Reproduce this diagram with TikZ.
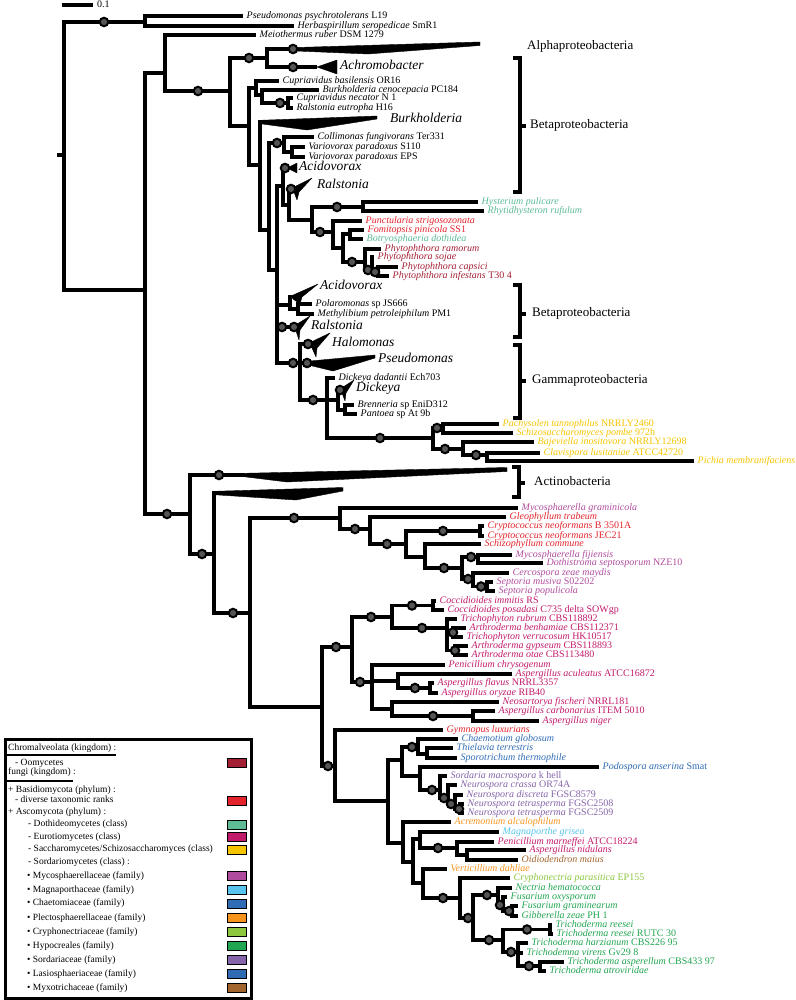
\documentclass[tikz,border=0pt]{standalone}
\usepackage{fontspec}
\setmainfont{Liberation Serif}
\definecolor{oomy}{HTML}{A31F34}
\definecolor{basid}{HTML}{E3232C}
\definecolor{dothi}{HTML}{5DBB96}
\definecolor{euro}{HTML}{C21A6B}
\definecolor{sacch}{HTML}{F5C400}
\definecolor{mycos}{HTML}{B04C9E}
\definecolor{magna}{HTML}{58C4EE}
\definecolor{chaet}{HTML}{2F6CB5}
\definecolor{plect}{HTML}{F7941E}
\definecolor{cryph}{HTML}{8DC63F}
\definecolor{hypoc}{HTML}{20A550}
\definecolor{sorda}{HTML}{8564AA}
\definecolor{lasio}{HTML}{2E6BB3}
\definecolor{myxo}{HTML}{A2652E}
\definecolor{dotgray}{HTML}{555555}
\newcommand\tbr[2]{\draw[br] (#1) |- (#2);}
\newcommand\thz[2]{\draw[br] (#1) -- (#2);}
\newcommand\tdot[2]{\node[dotn] (#1) at (#2) {};}
\newcommand\tlab[3]{\node[lab,text=#2] (#1l) at ([xshift=3.5pt]#1) {#3};}
\newcommand\tcoord[2]{\coordinate (#1) at (#2);}
\begin{document}
\begin{tikzpicture}[x=1pt,y=-1pt,
  br/.style={line width=3.4pt, line cap=butt, line join=miter},
  dotn/.style={circle, fill=dotgray, draw=black, line width=2pt, minimum size=8.5pt, inner sep=0pt},
  lab/.style={anchor=mid west, inner sep=0pt, font=\fontsize{10}{11}\selectfont},
  big/.style={anchor=mid west, inner sep=0pt, font=\fontsize{13.5}{14}\selectfont\itshape},
  grp/.style={anchor=mid west, inner sep=0pt, font=\fontsize{13}{14}\selectfont},
  wedge/.style={fill=black, draw=black, line width=0.4pt, line join=round},
  brk/.style={line width=3.2pt, line cap=butt, line join=miter},
  leg/.style={anchor=mid west, inner sep=0pt, font=\fontsize{9.5}{10}\selectfont},
  sw/.style={draw=black, line width=0.7pt, minimum width=19pt, minimum height=9pt, inner sep=0pt}]
\useasboundingbox (0,0) rectangle (795,1000);

% scale bar
\coordinate (sb0) at (62,5); \coordinate (sb1) at (93,5);
\draw[br] (sb0) -- (sb1);
\node[lab] (sbl) at (97,5) {0.1};

% ---------- coordinates: bacteria part
\tcoord{r0}{57,155}
\tcoord{r}{64,155}
\tcoord{t1}{145,22}
\tcoord{pp}{243,16}
\tcoord{hs}{294,26}
\tcoord{m1}{145,290}
\tcoord{a1}{165,73}
\tcoord{mr}{256,35}
\tcoord{b1}{230,91}
\tcoord{c1}{267,58}
\tcoord{alpha}{296,49}
\tcoord{achro}{317,67}
\tcoord{c2}{249,126}
\tcoord{cup}{256,88}
\tcoord{cb}{279,81}
\tcoord{cu2}{262,95}
\tcoord{bc}{319,90}
\tcoord{cu3}{288,103}
\tcoord{cn}{293,98}
\tcoord{reu}{293,108}
\tcoord{d1}{260,165}
\tcoord{burk}{262,122}
\tcoord{d2}{269,230}
\tcoord{col}{284,143}
\tcoord{cf}{314,137}
\tcoord{col2}{292,152}
\tcoord{vs}{305,147}
\tcoord{ve}{305,157}
\tcoord{e1}{277,270}
\tcoord{up}{283,186}
\tcoord{acid1}{288,168}
\tcoord{up2}{289,205}
\tcoord{ral1}{293,189}
\tcoord{fung}{312,220}
\tcoord{hy}{363,207}
\tcoord{hp}{478,202}
\tcoord{rr}{484,211}
\tcoord{pu}{333,232}
\tcoord{punc}{362,221}
\tcoord{pu2}{343,248}
\tcoord{fo}{350,234}
\tcoord{fp}{364,230}
\tcoord{bd}{363,239}
\tcoord{ph}{365,262}
\tcoord{pram}{381,249}
\tcoord{ph2}{372,270}
\tcoord{psj}{374,257}
\tcoord{ph3}{378,272}
\tcoord{pcap}{398,267}
\tcoord{pinf}{389,276}
\tcoord{ac2}{290,305}
\tcoord{acid2}{292,297}
\tcoord{po}{298,309}
\tcoord{pol}{312,304}
\tcoord{met}{314,314}
\tcoord{ral2}{294,327}
\tcoord{vt}{300,363}
\tcoord{halo}{310,344}
\tcoord{pseu}{308,363}
\tcoord{dk}{327,400}
\tcoord{dd}{335,378}
\tcoord{dk2}{338,400}
\tcoord{dick}{341,390}
\tcoord{brn0}{345,410}
\tcoord{brn}{354,405}
\tcoord{pan}{357,414}
\tcoord{ye}{433,438}
\tcoord{ye1}{443,428}
\tcoord{ptan}{499,424}
\tcoord{spom}{513,433}
\tcoord{ye2}{463,449}
\tcoord{bino}{534,442}
\tcoord{ye3}{487,455}
\tcoord{clus}{540,453}
\tcoord{pmem}{694,461}
% ---------- coordinates: lower part
\tcoord{f1}{190,514}
\tcoord{act1}{245,475}
\tcoord{f2}{214,554}
\tcoord{act2}{216,493}
\tcoord{f3}{250,613}
\tcoord{g1}{340,518}
\tcoord{mg}{518,508}
\tcoord{g2}{370,529}
\tcoord{gt}{506,517}
\tcoord{g3}{406,544}
\tcoord{g4}{480,531}
\tcoord{cr1}{484,526}
\tcoord{cr2}{484,536}
\tcoord{g5}{425,557}
\tcoord{sc}{481,544}
\tcoord{g6}{462,568}
\tcoord{g7}{478,557}
\tcoord{mf}{512,555}
\tcoord{dsn}{543,563}
\tcoord{g8}{473,579}
\tcoord{cz}{509,573}
\tcoord{g9}{487,586.5}
\tcoord{sm}{493,582}
\tcoord{spo}{495,591}
\tcoord{h1}{322,707}
\tcoord{h2}{352,647}
\tcoord{h3}{392,617}
\tcoord{h4}{433,605.5}
\tcoord{ci}{436,601}
\tcoord{cpo}{444,610}
\tcoord{h5}{447,628}
\tcoord{trr}{457,619}
\tcoord{h6}{453,632.5}
\tcoord{abe}{466,628}
\tcoord{tve}{463,637}
\tcoord{h7}{455,650.5}
\tcoord{agy}{468,646}
\tcoord{aot}{468,655}
\tcoord{h8}{372,682}
\tcoord{pch}{445,665}
\tcoord{h9}{398,681}
\tcoord{aac}{512,674}
\tcoord{h10}{430,688}
\tcoord{afl}{434,683}
\tcoord{aor}{438,693}
\tcoord{h11}{392,709}
\tcoord{nfi}{499,702}
\tcoord{h12}{473,716}
\tcoord{aca}{495,711}
\tcoord{ani}{539,721}
\tcoord{k1}{335,766}
\tcoord{gyl}{443,730}
\tcoord{k2}{388,801}
\tcoord{k3}{402,760}
\tcoord{k4}{418,747}
\tcoord{cgl}{458,739}
\tcoord{k5}{427,754}
\tcoord{tte}{453,748}
\tcoord{sth}{457,758}
\tcoord{k6}{420,776}
\tcoord{pans}{599,767}
\tcoord{k7}{440,790}
\tcoord{sma}{447,776}
\tcoord{k8}{448,798}
\tcoord{ncr}{457,785}
\tcoord{k9}{455,804}
\tcoord{ndi}{463,795}
\tcoord{k10}{460,809}
\tcoord{nt1}{464,804}
\tcoord{nt2}{464,813}
\tcoord{mm1}{403,843}
\tcoord{aal}{451,822}
\tcoord{mm2}{413,862}
\tcoord{mm3}{420,839}
\tcoord{mgr}{499,832}
\tcoord{mm4}{457,848}
\tcoord{pma}{494,842}
\tcoord{mm5}{467,855}
\tcoord{anid}{526,850}
\tcoord{oma}{518,860}
\tcoord{mm6}{423,883}
\tcoord{vda}{447,869}
\tcoord{n1}{460,898}
\tcoord{cpa}{510,878}
\tcoord{n2}{473,918}
\tcoord{n3}{498,895}
\tcoord{nhe}{512,888}
\tcoord{n4}{503,905}
\tcoord{fox}{507,897}
\tcoord{n5}{512,911}
\tcoord{fgr}{518,906}
\tcoord{gze}{518,916}
\tcoord{n6}{503,940}
\tcoord{n7}{550,929.5}
\tcoord{tre1}{552,925}
\tcoord{tre2}{553,934}
\tcoord{n8}{518,952}
\tcoord{tha}{528,943}
\tcoord{tvi}{523,953}
\tcoord{n9}{540,966}
\tcoord{tas}{564,962}
\tcoord{tat}{546,971}

% ---------- branches
\thz{r0}{r}
\tbr{r}{t1}\tbr{r}{m1}
\tbr{t1}{pp}\tbr{t1}{hs}
\tbr{m1}{a1}\tbr{m1}{f1}
\tbr{a1}{mr}\tbr{a1}{b1}
\tbr{b1}{c1}\tbr{b1}{c2}
\tbr{c1}{alpha}\tbr{c1}{achro}
\tbr{c2}{cup}\tbr{c2}{d1}
\tbr{cup}{cb}\tbr{cup}{cu2}
\tbr{cu2}{bc}\tbr{cu2}{cu3}
\tbr{cu3}{cn}\tbr{cu3}{reu}
\tbr{d1}{burk}\tbr{d1}{d2}
\tbr{d2}{col}\tbr{d2}{e1}
\tbr{col}{cf}\tbr{col}{col2}
\tbr{col2}{vs}\tbr{col2}{ve}
\tbr{e1}{up}\tbr{e1}{ac2}\tbr{e1}{ral2}\tbr{e1}{vt}
\tbr{up}{acid1}\tbr{up}{up2}
\tbr{up2}{ral1}\tbr{up2}{fung}
\tbr{fung}{hy}\tbr{fung}{pu}
\tbr{hy}{hp}\tbr{hy}{rr}
\tbr{pu}{punc}\tbr{pu}{pu2}
\tbr{pu2}{fo}\tbr{pu2}{ph}
\tbr{fo}{fp}\tbr{fo}{bd}
\tbr{ph}{pram}\tbr{ph}{ph2}
\tbr{ph2}{psj}\tbr{ph2}{ph3}
\tbr{ph3}{pcap}\tbr{ph3}{pinf}
\tbr{ac2}{acid2}\tbr{ac2}{po}
\tbr{po}{pol}\tbr{po}{met}
\tbr{vt}{halo}\thz{vt}{pseu}\tbr{vt}{dk}
\tbr{dk}{dd}\thz{dk}{dk2}\tbr{dk}{ye}
\tbr{dk2}{dick}\tbr{dk2}{brn0}
\tbr{brn0}{brn}\tbr{brn0}{pan}
\tbr{ye}{ye1}\tbr{ye}{ye2}
\tbr{ye1}{ptan}\tbr{ye1}{spom}
\tbr{ye2}{bino}\tbr{ye2}{ye3}
\tbr{ye3}{clus}\tbr{ye3}{pmem}
\tbr{f1}{act1}\tbr{f1}{f2}
\tbr{f2}{act2}\tbr{f2}{f3}
\tbr{f3}{g1}\tbr{f3}{h1}
\tbr{g1}{mg}\tbr{g1}{g2}
\tbr{g2}{gt}\tbr{g2}{g3}
\tbr{g3}{g4}\tbr{g3}{g5}
\tbr{g4}{cr1}\tbr{g4}{cr2}
\tbr{g5}{sc}\tbr{g5}{g6}
\tbr{g6}{g7}\tbr{g6}{g8}
\tbr{g7}{mf}\tbr{g7}{dsn}
\tbr{g8}{cz}\tbr{g8}{g9}
\tbr{g9}{sm}\tbr{g9}{spo}
\tbr{h1}{h2}\tbr{h1}{k1}
\tbr{h2}{h3}\tbr{h2}{h8}
\tbr{h3}{h4}\tbr{h3}{h5}
\tbr{h4}{ci}\tbr{h4}{cpo}
\tbr{h5}{trr}\tbr{h5}{h6}\tbr{h5}{h7}
\tbr{h6}{abe}\tbr{h6}{tve}
\tbr{h7}{agy}\tbr{h7}{aot}
\tbr{h8}{pch}\tbr{h8}{h9}\tbr{h8}{h11}
\tbr{h9}{aac}\tbr{h9}{h10}
\tbr{h10}{afl}\tbr{h10}{aor}
\tbr{h11}{nfi}\tbr{h11}{h12}
\tbr{h12}{aca}\tbr{h12}{ani}
\tbr{k1}{gyl}\tbr{k1}{k2}
\tbr{k2}{k3}\tbr{k2}{mm1}
\tbr{k3}{k4}\tbr{k3}{k6}
\tbr{k4}{cgl}\tbr{k4}{k5}
\tbr{k5}{tte}\tbr{k5}{sth}
\tbr{k6}{pans}\tbr{k6}{k7}
\tbr{k7}{sma}\tbr{k7}{k8}
\tbr{k8}{ncr}\tbr{k8}{k9}
\tbr{k9}{ndi}\tbr{k9}{k10}
\tbr{k10}{nt1}\tbr{k10}{nt2}
\tbr{mm1}{aal}\tbr{mm1}{mm2}
\tbr{mm2}{mm3}\tbr{mm2}{mm6}
\tbr{mm3}{mgr}\tbr{mm3}{mm4}
\tbr{mm4}{pma}\tbr{mm4}{mm5}
\tbr{mm5}{anid}\tbr{mm5}{oma}
\tbr{mm6}{vda}\tbr{mm6}{n1}
\tbr{n1}{cpa}\tbr{n1}{n2}
\tbr{n2}{n3}\tbr{n2}{n6}
\tbr{n3}{nhe}\tbr{n3}{n4}
\tbr{n4}{fox}\tbr{n4}{n5}
\tbr{n5}{fgr}\tbr{n5}{gze}
\tbr{n6}{n7}\tbr{n6}{n8}
\tbr{n7}{tre1}\tbr{n7}{tre2}
\tbr{n8}{tha}\tbr{n8}{tvi}\tbr{n8}{n9}
\tbr{n9}{tas}\tbr{n9}{tat}

% ---------- collapsed clades
\fill[wedge] (296,47.5) -- (480,42) -- (480,45.5) -- (368,54) -- (296,51) -- cycle;
\fill[wedge] (317,67) -- (337,60) -- (337,74) -- cycle;
\fill[wedge] (260,120.3) -- (377,116) -- (377,119) -- (307,130) -- (260,123.7) -- cycle;
\fill[wedge] (287,168) -- (297,163) -- (297,173) -- cycle;
\fill[wedge] (292,188) -- (312,178) -- (299,192) -- (297,200) -- (294,192) -- cycle;
\fill[wedge] (291,296) -- (318,284) -- (302,297) -- (300,304) -- (293,299) -- cycle;
\fill[wedge] (294,326) -- (310,316) -- (300,330) -- (299,340) -- (296,331) -- cycle;
\fill[wedge] (309,343) -- (330,333) -- (317,348) -- (316,357) -- (312,348) -- cycle;
\fill[wedge] (307,361.3) -- (375,355) -- (375,358) -- (333,371) -- (307,364.7) -- cycle;
\fill[wedge] (340,389) -- (354,380) -- (346,393) -- (345,401) -- (342,393) -- cycle;
\fill[wedge] (244,473.3) -- (507,467.5) -- (507,471.5) -- (287,482) -- (244,476.7) -- cycle;
\fill[wedge] (214,491.3) -- (343,487.5) -- (343,491) -- (296,500) -- (214,494.7) -- cycle;

% ---------- support dots
\tdot{q1}{104,22}
\tdot{q2}{198,91}
\tdot{q3}{249,58}
\tdot{q4}{293,49}
\tdot{q5}{293,67}
\tdot{q6}{280,103}
\tdot{q7}{277,143}
\tdot{q8}{285,168}
\tdot{q9}{291,189}
\tdot{q10}{337,207}
\tdot{q11}{320,232}
\tdot{q12}{352,262}
\tdot{q13}{368,270}
\tdot{q14}{375,272}
\tdot{q15}{282,327}
\tdot{q15b}{294,327}
\tdot{q16}{293,363}
\tdot{q17}{307,363}
\tdot{q18}{308,344}
\tdot{q19}{313,400}
\tdot{q20}{340,390}
\tdot{q21}{380,438}
\tdot{q22}{437,428}
\tdot{q23}{445,449}
\tdot{q24}{476,455}
\tdot{q25}{167,514}
\tdot{q26}{219,475}
\tdot{q27}{202,554}
\tdot{q28}{233,613}
\tdot{q29}{294,518}
\tdot{q30}{355,529}
\tdot{q31}{387,544}
\tdot{q32}{443,531}
\tdot{q33}{444,568}
\tdot{q34}{471,557}
\tdot{q35}{468,579}
\tdot{q36}{481,586.5}
\tdot{q37}{336,647}
\tdot{q38}{371,617}
\tdot{q39}{412,605.5}
\tdot{q40}{422,628}
\tdot{q41}{453,632.5}
\tdot{q42}{455,650.5}
\tdot{q43}{360,682}
\tdot{q44}{415,688}
\tdot{q45}{433,716}
\tdot{q46}{328,766}
\tdot{q47}{412,747}
\tdot{q48}{432,790}
\tdot{q49}{444,798}
\tdot{q50}{451,804}
\tdot{q51}{459,809}
\tdot{q52}{438,848}
\tdot{q53}{443,898}
\tdot{q54}{468,918}
\tdot{q55}{487,895}
\tdot{q56}{500,905}
\tdot{q57}{509,911}
\tdot{q58}{489,940}
\tdot{q59}{527,929.5}
\tdot{q60}{511,952}
\tdot{q61}{529,966}

% ---------- leaf labels
\tlab{pp}{black}{\textit{Pseudomonas psychrotolerans} L19}
\tlab{hs}{black}{\textit{Herbaspirillum seropedicae} SmR1}
\tlab{mr}{black}{\textit{Meiothermus ruber} DSM 1279}
\tlab{cb}{black}{\textit{Cupriavidus basilensis} OR16}
\tlab{bc}{black}{\textit{Burkholderia cenocepacia} PC184}
\tlab{cn}{black}{\textit{Cupriavidus necator} N 1}
\tlab{reu}{black}{\textit{Ralstonia eutropha} H16}
\tlab{cf}{black}{\textit{Collimonas fungivorans} Ter331}
\tlab{vs}{black}{\textit{Variovorax paradoxus} S110}
\tlab{ve}{black}{\textit{Variovorax paradoxus} EPS}
\tlab{hp}{dothi}{\textit{Hysterium pulicare}}
\tlab{rr}{dothi}{\textit{Rhytidhysteron rufulum}}
\tlab{punc}{basid}{\textit{Punctularia strigosozonata}}
\tlab{fp}{basid}{\textit{Fomitopsis pinicola} SS1}
\tlab{bd}{dothi}{\textit{Botryosphaeria dothidea}}
\tlab{pram}{oomy}{\textit{Phytophthora ramorum}}
\tlab{psj}{oomy}{\textit{Phytophthora sojae}}
\tlab{pcap}{oomy}{\textit{Phytophthora capsici}}
\tlab{pinf}{oomy}{\textit{Phytophthora infestans} T30 4}
\tlab{pol}{black}{\textit{Polaromonas} sp JS666}
\tlab{met}{black}{\textit{Methylibium petroleiphilum} PM1}
\tlab{dd}{black}{\textit{Dickeya dadantii} Ech703}
\tlab{brn}{black}{\textit{Brenneria} sp EniD312}
\tlab{pan}{black}{\textit{Pantoea} sp At 9b}
\tlab{ptan}{sacch}{\textit{Pachysolen tannophilus} NRRLY2460}
\tlab{spom}{sacch}{\textit{Schizosaccharomyces pombe} 972h}
\tlab{bino}{sacch}{\textit{Bajeviella inositovora} NRRLY12698}
\tlab{clus}{sacch}{\textit{Clavispora lusitaniae} ATCC42720}
\tlab{pmem}{sacch}{\textit{Pichia membranifaciens}}
\tlab{mg}{mycos}{\textit{Mycosphaerella graminicola}}
\tlab{gt}{basid}{\textit{Gleophyllum trabeum}}
\tlab{cr1}{basid}{\textit{Cryptococcus neoformans} B 3501A}
\tlab{cr2}{basid}{\textit{Cryptococcus neoformans} JEC21}
\tlab{sc}{basid}{\textit{Schizophyllum commune}}
\tlab{mf}{mycos}{\textit{Mycosphaerella fijiensis}}
\tlab{dsn}{mycos}{\textit{Dothistroma septosporum} NZE10}
\tlab{cz}{mycos}{\textit{Cercospora zeae maydis}}
\tlab{sm}{mycos}{\textit{Septoria musiva} S02202}
\tlab{spo}{mycos}{\textit{Septoria populicola}}
\tlab{ci}{euro}{\textit{Coccidioides immitis} RS}
\tlab{cpo}{euro}{\textit{Coccidioides posadasi} C735 delta SOWgp}
\tlab{trr}{euro}{\textit{Trichophyton rubrum} CBS118892}
\tlab{abe}{euro}{\textit{Arthroderma benhamiae} CBS112371}
\tlab{tve}{euro}{\textit{Trichophyton verrucosum} HK10517}
\tlab{agy}{euro}{\textit{Arthroderma gypseum} CBS118893}
\tlab{aot}{euro}{\textit{Arthroderma otae} CBS113480}
\tlab{pch}{euro}{\textit{Penicillium chrysogenum}}
\tlab{aac}{euro}{\textit{Aspergillus aculeatus} ATCC16872}
\tlab{afl}{euro}{\textit{Aspergillus flavus} NRRL3357}
\tlab{aor}{euro}{\textit{Aspergillus oryzae} RIB40}
\tlab{nfi}{euro}{\textit{Neosartorya fischeri} NRRL181}
\tlab{aca}{euro}{\textit{Aspergillus carbonarius} ITEM 5010}
\tlab{ani}{euro}{\textit{Aspergillus niger}}
\tlab{gyl}{basid}{\textit{Gymnopus luxurians}}
\tlab{cgl}{chaet}{\textit{Chaemotium globosum}}
\tlab{tte}{chaet}{\textit{Thielavia terrestris}}
\tlab{sth}{chaet}{\textit{Sporotrichum thermophile}}
\tlab{pans}{lasio}{\textit{Podospora anserina} Smat}
\tlab{sma}{sorda}{\textit{Sordaria macrospora} k hell}
\tlab{ncr}{sorda}{\textit{Neurospora crassa} OR74A}
\tlab{ndi}{sorda}{\textit{Neurospora discreta} FGSC8579}
\tlab{nt1}{sorda}{\textit{Neurospora tetrasperma} FGSC2508}
\tlab{nt2}{sorda}{\textit{Neurospora tetrasperma} FGSC2509}
\tlab{aal}{plect}{\textit{Acremonium alcalophilum}}
\tlab{mgr}{magna}{\textit{Magnaporthe grisea}}
\tlab{pma}{euro}{\textit{Penicillium marneffei} ATCC18224}
\tlab{anid}{euro}{\textit{Aspergillus nidulans}}
\tlab{oma}{myxo}{\textit{Oidiodendron maius}}
\tlab{vda}{plect}{\textit{Verticillium dahliae}}
\tlab{cpa}{cryph}{\textit{Cryphonectria parasitica} EP155}
\tlab{nhe}{hypoc}{\textit{Nectria hematococca}}
\tlab{fox}{hypoc}{\textit{Fusarium oxysporum}}
\tlab{fgr}{hypoc}{\textit{Fusarium graminearum}}
\tlab{gze}{hypoc}{\textit{Gibberella zeae} PH 1}
\tlab{tre1}{hypoc}{\textit{Trichoderma reesei}}
\tlab{tre2}{hypoc}{\textit{Trichoderma reesei} RUTC 30}
\tlab{tha}{hypoc}{\textit{Trichoderma harzianum} CBS226 95}
\tlab{tvi}{hypoc}{\textit{Trichodemna virens} Gv29 8}
\tlab{tas}{hypoc}{\textit{Trichoderma asperellum} CBS433 97}
\tlab{tat}{hypoc}{\textit{Trichoderma atroviridae}}

% ---------- collapsed clade names
\node[big] (achrol) at (340,67) {Achromobacter};
\node[big] (burkl) at (390,120) {Burkholderia};
\node[big] (acid1l) at (299,168) {Acidovorax};
\node[big] (ral1l) at (317,186) {Ralstonia};
\node[big] (acid2l) at (320,287) {Acidovorax};
\node[big] (ral2l) at (311,327) {Ralstonia};
\node[big] (halol) at (332,344) {Halomonas};
\node[big] (pseul) at (378,360) {Pseudomonas};
\node[big] (dickl) at (356,389) {Dickeya};

% ---------- brackets and group names
\node[grp] (alphl) at (527,47) {Alphaproteobacteria};
\draw[brk] (513,58) -- (520,58) -- (520,192) -- (513,192);
\draw[brk] (520,126) -- (526,126);
\node[grp] (beta1l) at (530,126) {Betaproteobacteria};
\draw[brk] (513,285) -- (520,285) -- (520,337) -- (513,337);
\draw[brk] (520,314) -- (526,314);
\node[grp] (beta2l) at (532,314) {Betaproteobacteria};
\draw[brk] (513,345) -- (520,345) -- (520,418) -- (513,418);
\draw[brk] (520,381) -- (526,381);
\node[grp] (gamml) at (532,381) {Gammaproteobacteria};
\draw[brk] (512,467) -- (519,467) -- (519,497) -- (512,497);
\draw[brk] (519,483) -- (525,483);
\node[grp] (actl) at (534,483) {Actinobacteria};

% ---------- legend
\node[draw, line width=3pt, minimum width=246pt, minimum height=259pt, inner sep=0pt, anchor=north west] (legbox) at (4,738) {};
\node[leg] (lg1) at (8,748) {Chromalveolata (kingdom) :};
\draw[line width=2.6pt] (6,755) -- (116,755);
\node[leg] (lg2) at (15,763) {- Oomycetes};
\node[leg] (lg3) at (8,772) {fungi (kingdom) :};
\draw[line width=2.6pt] (6,781) -- (73,781);
\node[leg] (lg4) at (8,790) {+ Basidiomycota (phylum) :};
\node[leg] (lg5) at (15,800) {- diverse taxonomic ranks};
\node[leg] (lg6) at (8,812) {+ Ascomycota (phylum) :};
\node[leg] (lg7) at (28,824) {- Dothideomycetes (class)};
\node[leg] (lg8) at (28,837) {- Eurotiomycetes (class)};
\node[leg] (lg9) at (28,849) {- Saccharomycetes/Schizosaccharomyces (class)};
\node[leg] (lg10) at (28,862) {- Sordariomycetes (class) :};
\node[leg] (lg11) at (27,876) {• Mycosphaerellaceae (family)};
\node[leg] (lg12) at (27,890) {• Magnaporthaceae (family)};
\node[leg] (lg13) at (27,903) {• Chaetomiaceae (family)};
\node[leg] (lg14) at (27,918) {• Plectosphaerellaceae (family)};
\node[leg] (lg15) at (27,932) {• Cryphonectriaceae (family)};
\node[leg] (lg16) at (27,946) {• Hypocreales (family)};
\node[leg] (lg17) at (27,960) {• Sordariaceae (family)};
\node[leg] (lg18) at (27,974) {• Lasiosphaeriaceae (family)};
\node[leg] (lg19) at (27,988) {• Myxotrichaceae (family)};
\node[sw,fill=oomy] (sw1) at (237,763) {};
\node[sw,fill=basid] (sw2) at (237,801) {};
\node[sw,fill=dothi] (sw3) at (237,824.5) {};
\node[sw,fill=euro] (sw4) at (237,837) {};
\node[sw,fill=sacch] (sw5) at (237,849.5) {};
\node[sw,fill=mycos] (sw6) at (237,876) {};
\node[sw,fill=magna] (sw7) at (237,890) {};
\node[sw,fill=chaet] (sw8) at (237,903.5) {};
\node[sw,fill=plect] (sw9) at (237,918) {};
\node[sw,fill=cryph] (sw10) at (237,932) {};
\node[sw,fill=hypoc] (sw11) at (237,946) {};
\node[sw,fill=sorda] (sw12) at (237,960) {};
\node[sw,fill=lasio] (sw13) at (237,974) {};
\node[sw,fill=myxo] (sw14) at (237,988) {};
\end{tikzpicture}
\end{document}
